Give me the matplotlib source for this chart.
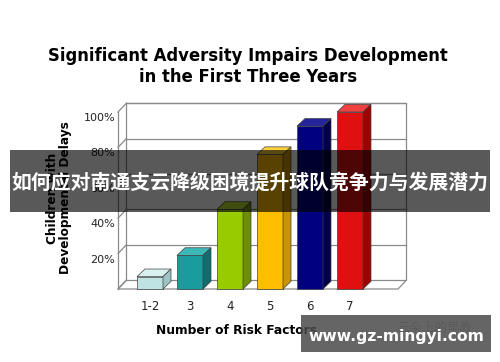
import matplotlib
matplotlib.use('Agg')
import matplotlib.pyplot as plt
from matplotlib.patches import Polygon, Rectangle
from matplotlib.transforms import ScaledTranslation

# data
categories = ['1-2', '3', '4', '5', '6', '7']
percent = [7, 19, 45, 76, 92, 100]
front_colors = ['#bfe3e3', '#1a9c9c', '#99cc00', '#ffbf00', '#000080', '#e01010']
top_colors = ['#d8f0f0', '#3cb8b8', '#b4dc2c', '#ffd23c', '#24249c', '#f04040']
side_colors = ['#9cc4c4', '#0e6e6e', '#6e9000', '#c89400', '#00004c', '#a00000']
yticks = [20, 40, 60, 80, 100]

plt.rcParams['font.family'] = ['DejaVu Sans']

fig = plt.figure(figsize=(5, 3.62), dpi=100)
fig.patch.set_facecolor('white')

# front plane of the pseudo-3D box, in pixels: x 118..398, y 289 (0%) .. 112 (100%)
ax = fig.add_axes([118/500, (362-289)/362, 280/500, 177/362])
xmin, xmax = -0.8, 6.2
ax.set_xlim(xmin, xmax)
ax.set_ylim(0, 100)
for s in ax.spines.values():
    s.set_visible(False)
ax.patch.set_alpha(0)

DX, DY = 0.21, 5.0     # wall depth in data units
bdx, bdy = 0.2, 4.3    # bar depth
w = 0.65
gc = '#8a8a8a'

# floor
ax.add_patch(Polygon([(xmin, 0), (xmax, 0), (xmax+DX, DY), (xmin+DX, DY)],
                     closed=True, fc='white', ec=gc, lw=0.9, zorder=1, clip_on=False))
# back wall + grid
ax.add_patch(Rectangle((xmin+DX, DY), xmax-xmin, 100, fc='white', ec=gc, lw=0.9, zorder=1,
                       clip_on=False))
for v in yticks:
    ax.plot([xmin+DX, xmax+DX], [v+DY, v+DY], color=gc, lw=0.9, zorder=1, clip_on=False)
# left wall
ax.plot([xmin, xmin], [0, 100], color=gc, lw=0.9, zorder=1, clip_on=False)
for v in [0] + yticks:
    ax.plot([xmin, xmin+DX], [v, v+DY], color=gc, lw=0.9, zorder=1, clip_on=False)

# bars
xs = list(range(len(categories)))
ax.bar(xs, percent, width=w, color=front_colors, edgecolor='#404040', linewidth=0.5,
       zorder=3, clip_on=False)
for x, v, tc, sc in zip(xs, percent, top_colors, side_colors):
    x0, x1 = x - w/2, x + w/2
    ax.add_patch(Polygon([(x0, v), (x1, v), (x1+bdx, v+bdy), (x0+bdx, v+bdy)],
                         closed=True, fc=tc, ec='#404040', lw=0.5, zorder=3, clip_on=False))
    ax.add_patch(Polygon([(x1, 0), (x1, v), (x1+bdx, v+bdy), (x1+bdx, bdy)],
                         closed=True, fc=sc, ec='#404040', lw=0.5, zorder=3, clip_on=False))

ax.set_xticks(xs)
ax.set_xticklabels(categories, fontsize=8.5, color='#222222')
ax.set_yticks(yticks)
ax.set_yticklabels(['%d%%' % v for v in yticks], fontsize=8, color='#222222')
ax.tick_params(length=0, axis='x', pad=8)
ax.tick_params(length=0, axis='y', pad=2)
for lab in ax.get_yticklabels():
    lab.set_transform(lab.get_transform() + ScaledTranslation(0, -5/100, fig.dpi_scale_trans))

fig.text(236/500, 1-330/362, 'Number of Risk Factors', fontsize=8.8, fontweight='bold',
         ha='center', va='center')
fig.text(59/500, 1-198/362, 'Children with\nDevelopmental Delays', rotation=90,
         fontsize=8.7, fontweight='bold', ha='center', va='center', linespacing=1.05)

fig.text(0.496, 1-56/362, 'Significant Adversity Impairs Development', fontsize=11.9,
         fontweight='bold', ha='center', va='center')
fig.text(0.496, 1-77/362, 'in the First Three Years', fontsize=11.9,
         fontweight='bold', ha='center', va='center')

# overlay banners
fig.patches.append(Rectangle((10/500, 1-212/362), 480/500, 62/362, transform=fig.transFigure,
                             fc='black', alpha=0.65, zorder=10))
fig.text(0.5, 1-182/362, '如何应对南通支云降级困境提升球队竞争力与发展潜力', color='white',
         fontsize=14.3, fontweight='bold', ha='center', va='center',
         family=['Noto Sans CJK SC', 'DejaVu Sans'], zorder=11)

fig.text(435/500, 1-328/362, '云朵上的早教', color='#bbbbbb', fontsize=9,
         ha='center', va='center', family=['Noto Sans CJK SC'], zorder=9)
fig.patches.append(Rectangle((301/500, 1-352/362), 190/500, 37/362, transform=fig.transFigure,
                             fc='#4a4a4a', alpha=0.85, zorder=10))
fig.text(396/500, 1-337/362, 'www.gz-mingyi.com', color='white', fontsize=11.2,
         fontweight='bold', ha='center', va='center', zorder=11)

fig.savefig('out.png', dpi=100)
